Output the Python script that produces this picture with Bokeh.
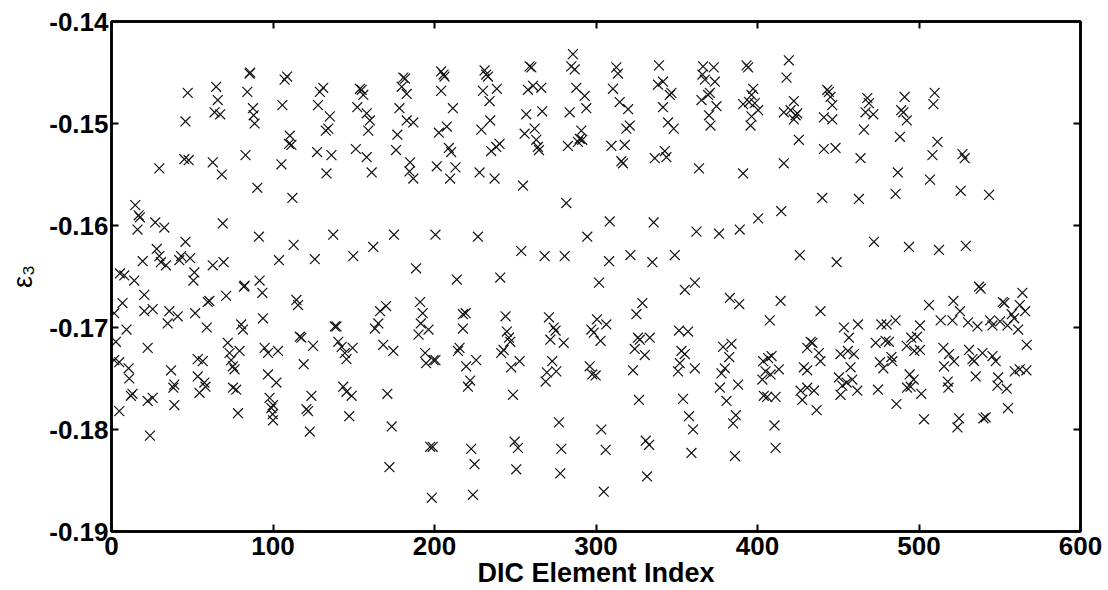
from bokeh.plotting import figure
from bokeh.models import LinearAxis, Range1d, FixedTicker, PrintfTickFormatter
from bokeh.embed import file_html
from bokeh.resources import INLINE

# ---- data ----
idx_a = [5.2,7.9,14.1,14.7,16.8,17.6,16.1,19.3,29.6,27.1,32.7,28.0,29.6,30.6,33.7,42.0,43.1,45.8,48.7,51.3,50.7,45.8,47.2,45.1,47.8,62.7,69.4,62.7,68.3,68.9,64.8,65.8,63.8,67.3,82.4,91.7,83.0,90.3,91.3,84.1,85.5,85.9,87.6,88.0,88.6,103.7,112.8,112.0,105.2,105.8,107.2,108.7,110.4,109.9,111.4,125.9,127.3,133.1,136.2,127.9,129.0,131.1,135.2,132.7,134.2,137.3,149.7,162.1,151.3,158.0,161.1,152.2,153.8,154.9,155.9,158.0,160.0,159.0,174.9,188.6,176.2,177.0,178.3,179.7,180.7,181.8,182.8,182.8,186.9,184.9,184.5,186.9]
eps_a = [-0.1647,-0.1649,-0.1654,-0.1580,-0.1590,-0.1592,-0.1604,-0.1635,-0.1544,-0.1597,-0.1602,-0.1623,-0.1630,-0.1636,-0.1639,-0.1634,-0.1630,-0.1616,-0.1632,-0.1646,-0.1654,-0.1498,-0.1470,-0.1535,-0.1536,-0.1639,-0.1636,-0.1538,-0.1550,-0.1598,-0.1464,-0.1477,-0.1489,-0.1491,-0.1659,-0.1654,-0.1531,-0.1563,-0.1611,-0.1469,-0.1451,-0.1450,-0.1485,-0.1492,-0.1500,-0.1634,-0.1619,-0.1573,-0.1540,-0.1482,-0.1457,-0.1454,-0.1512,-0.1520,-0.1521,-0.1633,-0.1528,-0.1549,-0.1531,-0.1482,-0.1469,-0.1465,-0.1493,-0.1507,-0.1505,-0.1609,-0.1630,-0.1621,-0.1525,-0.1533,-0.1548,-0.1484,-0.1466,-0.1467,-0.1472,-0.1490,-0.1497,-0.1507,-0.1609,-0.1642,-0.1526,-0.1511,-0.1485,-0.1464,-0.1455,-0.1456,-0.1471,-0.1497,-0.1499,-0.1538,-0.1547,-0.1554]

idx_b = [1.7,2.7,1.7,4.8,6.8,9.3,10.6,11.0,12.0,13.0,4.8,20.3,20.3,25.5,22.4,22.4,25.5,23.8,35.8,34.8,41.0,36.9,38.9,38.3,38.9,51.8,59.6,60.6,71.0,82.0,59.0,53.4,56.5,53.4,57.5,58.2,54.5,72.0,73.1,74.1,75.2,76.2,79.3,80.3,81.4,75.2,77.2,78.3,93.4,93.8,94.8,96.9,103.1,96.9,102.1,97.9,100.0,99.0,99.8,100.0,114.5,115.5,116.6,117.6,124.8,119.0,123.8,120.7,121.7,122.8,138.3,139.3,140.4,142.5,144.5,145.5,149.3,143.5,145.5,148.7,147.2,163.1,165.2,166.3,170.0,168.3,174.5,170.8,173.5,172.1,191.1,192.7,191.5,190.1,196.3,194.2,194.8,199.4,197.3,198.9,198.3]
eps_b = [-0.1686,-0.1714,-0.1732,-0.1734,-0.1676,-0.1702,-0.1740,-0.1750,-0.1767,-0.1765,-0.1782,-0.1668,-0.1684,-0.1682,-0.1720,-0.1772,-0.1769,-0.1806,-0.1684,-0.1696,-0.1689,-0.1742,-0.1756,-0.1759,-0.1776,-0.1686,-0.1675,-0.1674,-0.1669,-0.1660,-0.1700,-0.1731,-0.1733,-0.1748,-0.1754,-0.1758,-0.1764,-0.1715,-0.1725,-0.1732,-0.1738,-0.1741,-0.1723,-0.1697,-0.1702,-0.1759,-0.1761,-0.1784,-0.1666,-0.1691,-0.1720,-0.1725,-0.1723,-0.1746,-0.1754,-0.1769,-0.1776,-0.1779,-0.1785,-0.1791,-0.1673,-0.1678,-0.1709,-0.1710,-0.1718,-0.1736,-0.1767,-0.1780,-0.1782,-0.1802,-0.1699,-0.1699,-0.1714,-0.1719,-0.1725,-0.1731,-0.1720,-0.1758,-0.1763,-0.1767,-0.1787,-0.1701,-0.1696,-0.1684,-0.1679,-0.1717,-0.1723,-0.1765,-0.1797,-0.1837,-0.1675,-0.1686,-0.1696,-0.1707,-0.1702,-0.1725,-0.1735,-0.1732,-0.1817,-0.1817,-0.1867]

idx_c = [204.1,205.6,206.2,204.1,211.4,202.7,207.6,208.9,210.3,201.4,213.0,209.7,200.6,213.8,
         231.0,232.0,233.1,230.0,238.6,234.1,234.5,229.0,235.1,238.2,240.3,227.9,237.2,226.9,240.7,
         258.9,260.0,257.9,261.0,266.1,256.8,266.7,255.8,262.0,263.0,264.0,264.7,254.8,253.7,268.2,280.6,
         285.7,284.7,286.8,287.8,293.0,283.7,294.0,290.9,289.9,288.8,291.5,282.6,281.6,294.6,301.9,
         312.6,313.6,310.5,314.7,319.9,320.9,318.8,309.5,317.8,315.7,316.7,308.5,308.1,321.3,334.9,335.7,348.8,
         339.0,338.4,341.5,345.7,346.7,341.5,344.6,348.1,336.4,342.6,343.6,
         366.3,372.9,365.9,367.4,373.6,365.3,369.4,370.5,374.6,370.0,370.9,363.8,362.2,376.2,389.0,400.4,361.2,
         393.2,394.2,397.3,396.3,391.1,394.8,398.3,400.4,396.3,395.7,391.1]
eps_c = [-0.1449,-0.1452,-0.1454,-0.1468,-0.1485,-0.1509,-0.1503,-0.1524,-0.1528,-0.1542,-0.1543,-0.1554,-0.1609,-0.1653,
         -0.1448,-0.1452,-0.1454,-0.1468,-0.1466,-0.1478,-0.1497,-0.1506,-0.1527,-0.1523,-0.1520,-0.1548,-0.1554,-0.1611,-0.1651,
         -0.1444,-0.1445,-0.1467,-0.1463,-0.1465,-0.1491,-0.1488,-0.1510,-0.1505,-0.1516,-0.1523,-0.1526,-0.1561,-0.1625,-0.1630,-0.1630,
         -0.1432,-0.1444,-0.1447,-0.1465,-0.1473,-0.1489,-0.1485,-0.1507,-0.1515,-0.1518,-0.1516,-0.1522,-0.1578,-0.1611,-0.1656,
         -0.1445,-0.1451,-0.1466,-0.1479,-0.1486,-0.1502,-0.1505,-0.1522,-0.1521,-0.1537,-0.1539,-0.1596,-0.1635,-0.1629,-0.1636,-0.1597,-0.1629,
         -0.1443,-0.1462,-0.1459,-0.1472,-0.1470,-0.1484,-0.1499,-0.1505,-0.1534,-0.1527,-0.1533,
         -0.1444,-0.1445,-0.1452,-0.1457,-0.1459,-0.1477,-0.1472,-0.1470,-0.1483,-0.1492,-0.1502,-0.1544,-0.1606,-0.1608,-0.1604,-0.1593,-0.1656,
         -0.1443,-0.1445,-0.1466,-0.1472,-0.1481,-0.1479,-0.1480,-0.1487,-0.1493,-0.1502,-0.1549]

idx_d = [355.0,382.9,388.7,200.6,
         217.6,219.3,217.6,215.5,214.5,225.8,219.6,222.1,220.7,222.7,224.8,223.8,
         244.0,244.8,246.1,246.9,241.3,242.8,247.5,252.7,248.6,249.6,251.7,250.6,
         270.9,273.8,275.0,271.7,280.0,272.9,269.6,275.4,268.8,277.1,278.5,277.9,
         300.6,306.4,297.1,298.6,302.8,296.1,297.7,299.8,303.3,306.0,304.8,
         328.7,325.0,326.0,327.1,333.3,324.0,330.2,322.9,326.6,330.8,332.9,331.6,
         351.4,357.0,352.9,355.0,351.9,350.8,361.2,353.9,357.6,360.1,359.1,
         378.7,383.9,382.5,379.8,377.7,376.7,388.0,380.8,386.6,384.9,386.0]
eps_d = [-0.1663,-0.1671,-0.1677,-0.1732,
         -0.1687,-0.1686,-0.1701,-0.1720,-0.1723,-0.1732,-0.1738,-0.1752,-0.1758,-0.1819,-0.1834,-0.1864,
         -0.1689,-0.1704,-0.1710,-0.1714,-0.1725,-0.1722,-0.1739,-0.1733,-0.1766,-0.1812,-0.1818,-0.1839,
         -0.1690,-0.1700,-0.1703,-0.1712,-0.1715,-0.1733,-0.1744,-0.1743,-0.1753,-0.1793,-0.1819,-0.1843,
         -0.1692,-0.1697,-0.1702,-0.1705,-0.1713,-0.1738,-0.1746,-0.1747,-0.1800,-0.1820,-0.1861,
         -0.1676,-0.1687,-0.1710,-0.1712,-0.1710,-0.1721,-0.1727,-0.1742,-0.1771,-0.1811,-0.1815,-0.1846,
         -0.1703,-0.1704,-0.1723,-0.1726,-0.1735,-0.1743,-0.1740,-0.1770,-0.1787,-0.1800,-0.1823,
         -0.1719,-0.1716,-0.1729,-0.1740,-0.1745,-0.1759,-0.1756,-0.1772,-0.1786,-0.1794,-0.1826]

idx_e = [419.4,418.0,416.3,420.5,422.5,423.6,424.6,422.5,425.6,416.3,414.7,426.2,
         443.2,444.2,445.2,446.3,441.1,446.3,441.1,448.3,440.1,449.0,
         468.0,469.0,466.9,471.7,465.9,463.8,462.8,472.1,
         491.1,489.0,490.3,492.4,488.2,486.9,485.5,493.8,
         509.7,508.9,511.4,508.3,506.8,512.4,
         526.9,528.3,525.8,529.0,543.4]
eps_e = [-0.1438,-0.1455,-0.1489,-0.1487,-0.1478,-0.1492,-0.1490,-0.1496,-0.1516,-0.1539,-0.1586,-0.1629,
         -0.1467,-0.1469,-0.1474,-0.1482,-0.1494,-0.1496,-0.1525,-0.1524,-0.1573,-0.1636,
         -0.1475,-0.1480,-0.1489,-0.1491,-0.1506,-0.1534,-0.1574,-0.1616,
         -0.1474,-0.1487,-0.1489,-0.1497,-0.1513,-0.1548,-0.1569,-0.1621,
         -0.1470,-0.1481,-0.1518,-0.1531,-0.1555,-0.1624,
         -0.1530,-0.1534,-0.1566,-0.1620,-0.1570]

idx_f = [414.3,407.6,406.6,403.5,408.7,405.0,408.1,403.0,413.2,403.9,406.0,411.2,410.5,411.2,
         439.0,430.8,432.9,434.0,438.0,439.0,428.7,430.8,426.7,430.8,435.0,427.7,436.6,
         453.5,456.6,462.2,451.4,456.0,459.7,457.6,450.4,455.2,458.7,452.5,451.4,461.8,
         476.7,480.0,485.5,473.2,479.3,481.4,475.8,477.9,482.9,483.5,474.6,486.0,
         492.4,495.2,498.8,500.6,497.1,500.6,494.2,496.7,492.6,494.8,501.4,503.1,
         506.2,513.4,521.3,520.7,525.4,530.4,515.1,518.6,521.7,515.5,517.8,518.2,524.8,523.8,
         537.2,538.2,536.2,544.0,545.5,550.2,531.0,533.1,539.3,534.1,535.1,539.9,541.3,545.5,547.5,549.0,548.6,554.3,555.1,
         551.9,552.9,554.8,557.4,558.9,562.4,564.0,565.7,561.4,566.7,559.3,562.4,566.5]
eps_f = [-0.1674,-0.1693,-0.1730,-0.1733,-0.1728,-0.1743,-0.1746,-0.1751,-0.1741,-0.1767,-0.1768,-0.1768,-0.1796,-0.1818,
         -0.1684,-0.1720,-0.1714,-0.1715,-0.1725,-0.1733,-0.1739,-0.1742,-0.1762,-0.1759,-0.1762,-0.1771,-0.1781,
         -0.1700,-0.1710,-0.1697,-0.1726,-0.1723,-0.1726,-0.1739,-0.1749,-0.1754,-0.1751,-0.1757,-0.1766,-0.1762,
         -0.1697,-0.1697,-0.1693,-0.1715,-0.1713,-0.1714,-0.1734,-0.1740,-0.1729,-0.1733,-0.1761,-0.1775,
         -0.1718,-0.1710,-0.1709,-0.1698,-0.1723,-0.1722,-0.1746,-0.1751,-0.1759,-0.1758,-0.1765,-0.1790,
         -0.1678,-0.1693,-0.1674,-0.1693,-0.1684,-0.1695,-0.1720,-0.1726,-0.1733,-0.1738,-0.1753,-0.1759,-0.1789,-0.1798,
         -0.1660,-0.1662,-0.1699,-0.1693,-0.1698,-0.1694,-0.1722,-0.1731,-0.1725,-0.1733,-0.1748,-0.1789,-0.1788,-0.1728,-0.1733,-0.1749,-0.1757,-0.1760,-0.1779,
         -0.1675,-0.1676,-0.1698,-0.1687,-0.1691,-0.1678,-0.1666,-0.1684,-0.1702,-0.1717,-0.1743,-0.1741,-0.1742]

x_ticks = [0, 100, 200, 300, 400, 500, 600]
y_ticks = [-0.19, -0.18, -0.17, -0.16, -0.15, -0.14]
x_label = "DIC Element Index"
y_label = "ε₃"

element_index = []
strain = []
for xs, ys in [(idx_a, eps_a), (idx_b, eps_b), (idx_c, eps_c),
               (idx_d, eps_d), (idx_e, eps_e), (idx_f, eps_f)]:
    for xv, yv in zip(xs, ys):
        element_index.append(xv)
        strain.append(yv)

FONT = "Liberation Sans"

p = figure(width=1108, height=590,
           x_range=Range1d(0, 600), y_range=Range1d(-0.19, -0.14),
           output_backend="svg", toolbar_location=None,
           min_border_left=111, min_border_right=28,
           min_border_top=21, min_border_bottom=58,
           x_axis_location=None, y_axis_location=None)

p.grid.visible = False
p.background_fill_color = "white"
p.border_fill_color = "white"
p.outline_line_color = "black"
p.outline_line_width = 2.5

p.scatter(element_index, strain, marker="x", size=14,
          line_color="#111111", line_width=1.2)


def style_axis(ax, ticks, show_labels):
    ax.ticker = FixedTicker(ticks=ticks)
    ax.axis_line_color = "black"
    ax.axis_line_width = 2.5
    ax.major_tick_line_color = "black"
    ax.major_tick_line_width = 2
    ax.major_tick_in = 7
    ax.major_tick_out = 0
    ax.minor_tick_line_color = None
    if show_labels:
        ax.major_label_text_font = FONT
        ax.major_label_text_font_size = "26px"
        ax.major_label_text_font_style = "bold"
        ax.major_label_text_color = "black"
    else:
        ax.major_label_text_font_size = "0px"
        ax.major_label_text_alpha = 0
        ax.major_label_standoff = 0


xb = LinearAxis()
style_axis(xb, x_ticks, True)
xb.major_label_standoff = 5
xb.axis_label = x_label
xb.axis_label_text_font = FONT
xb.axis_label_text_font_size = "27px"
xb.axis_label_text_font_style = "bold"
xb.axis_label_text_color = "black"
xb.axis_label_standoff = 0
p.add_layout(xb, "below")

yl = LinearAxis()
style_axis(yl, y_ticks, True)
yl.formatter = PrintfTickFormatter(format="%.2f")
yl.major_label_standoff = 3
yl.axis_label = y_label
yl.axis_label_text_font = FONT
yl.axis_label_text_font_size = "27px"
yl.axis_label_text_font_style = "normal"
yl.axis_label_text_color = "black"
yl.axis_label_standoff = 8
p.add_layout(yl, "left")

xt = LinearAxis()
style_axis(xt, x_ticks, False)
p.add_layout(xt, "above")

yr = LinearAxis()
style_axis(yr, y_ticks, False)
p.add_layout(yr, "right")

open("out.html", "w").write(file_html(p, INLINE))
